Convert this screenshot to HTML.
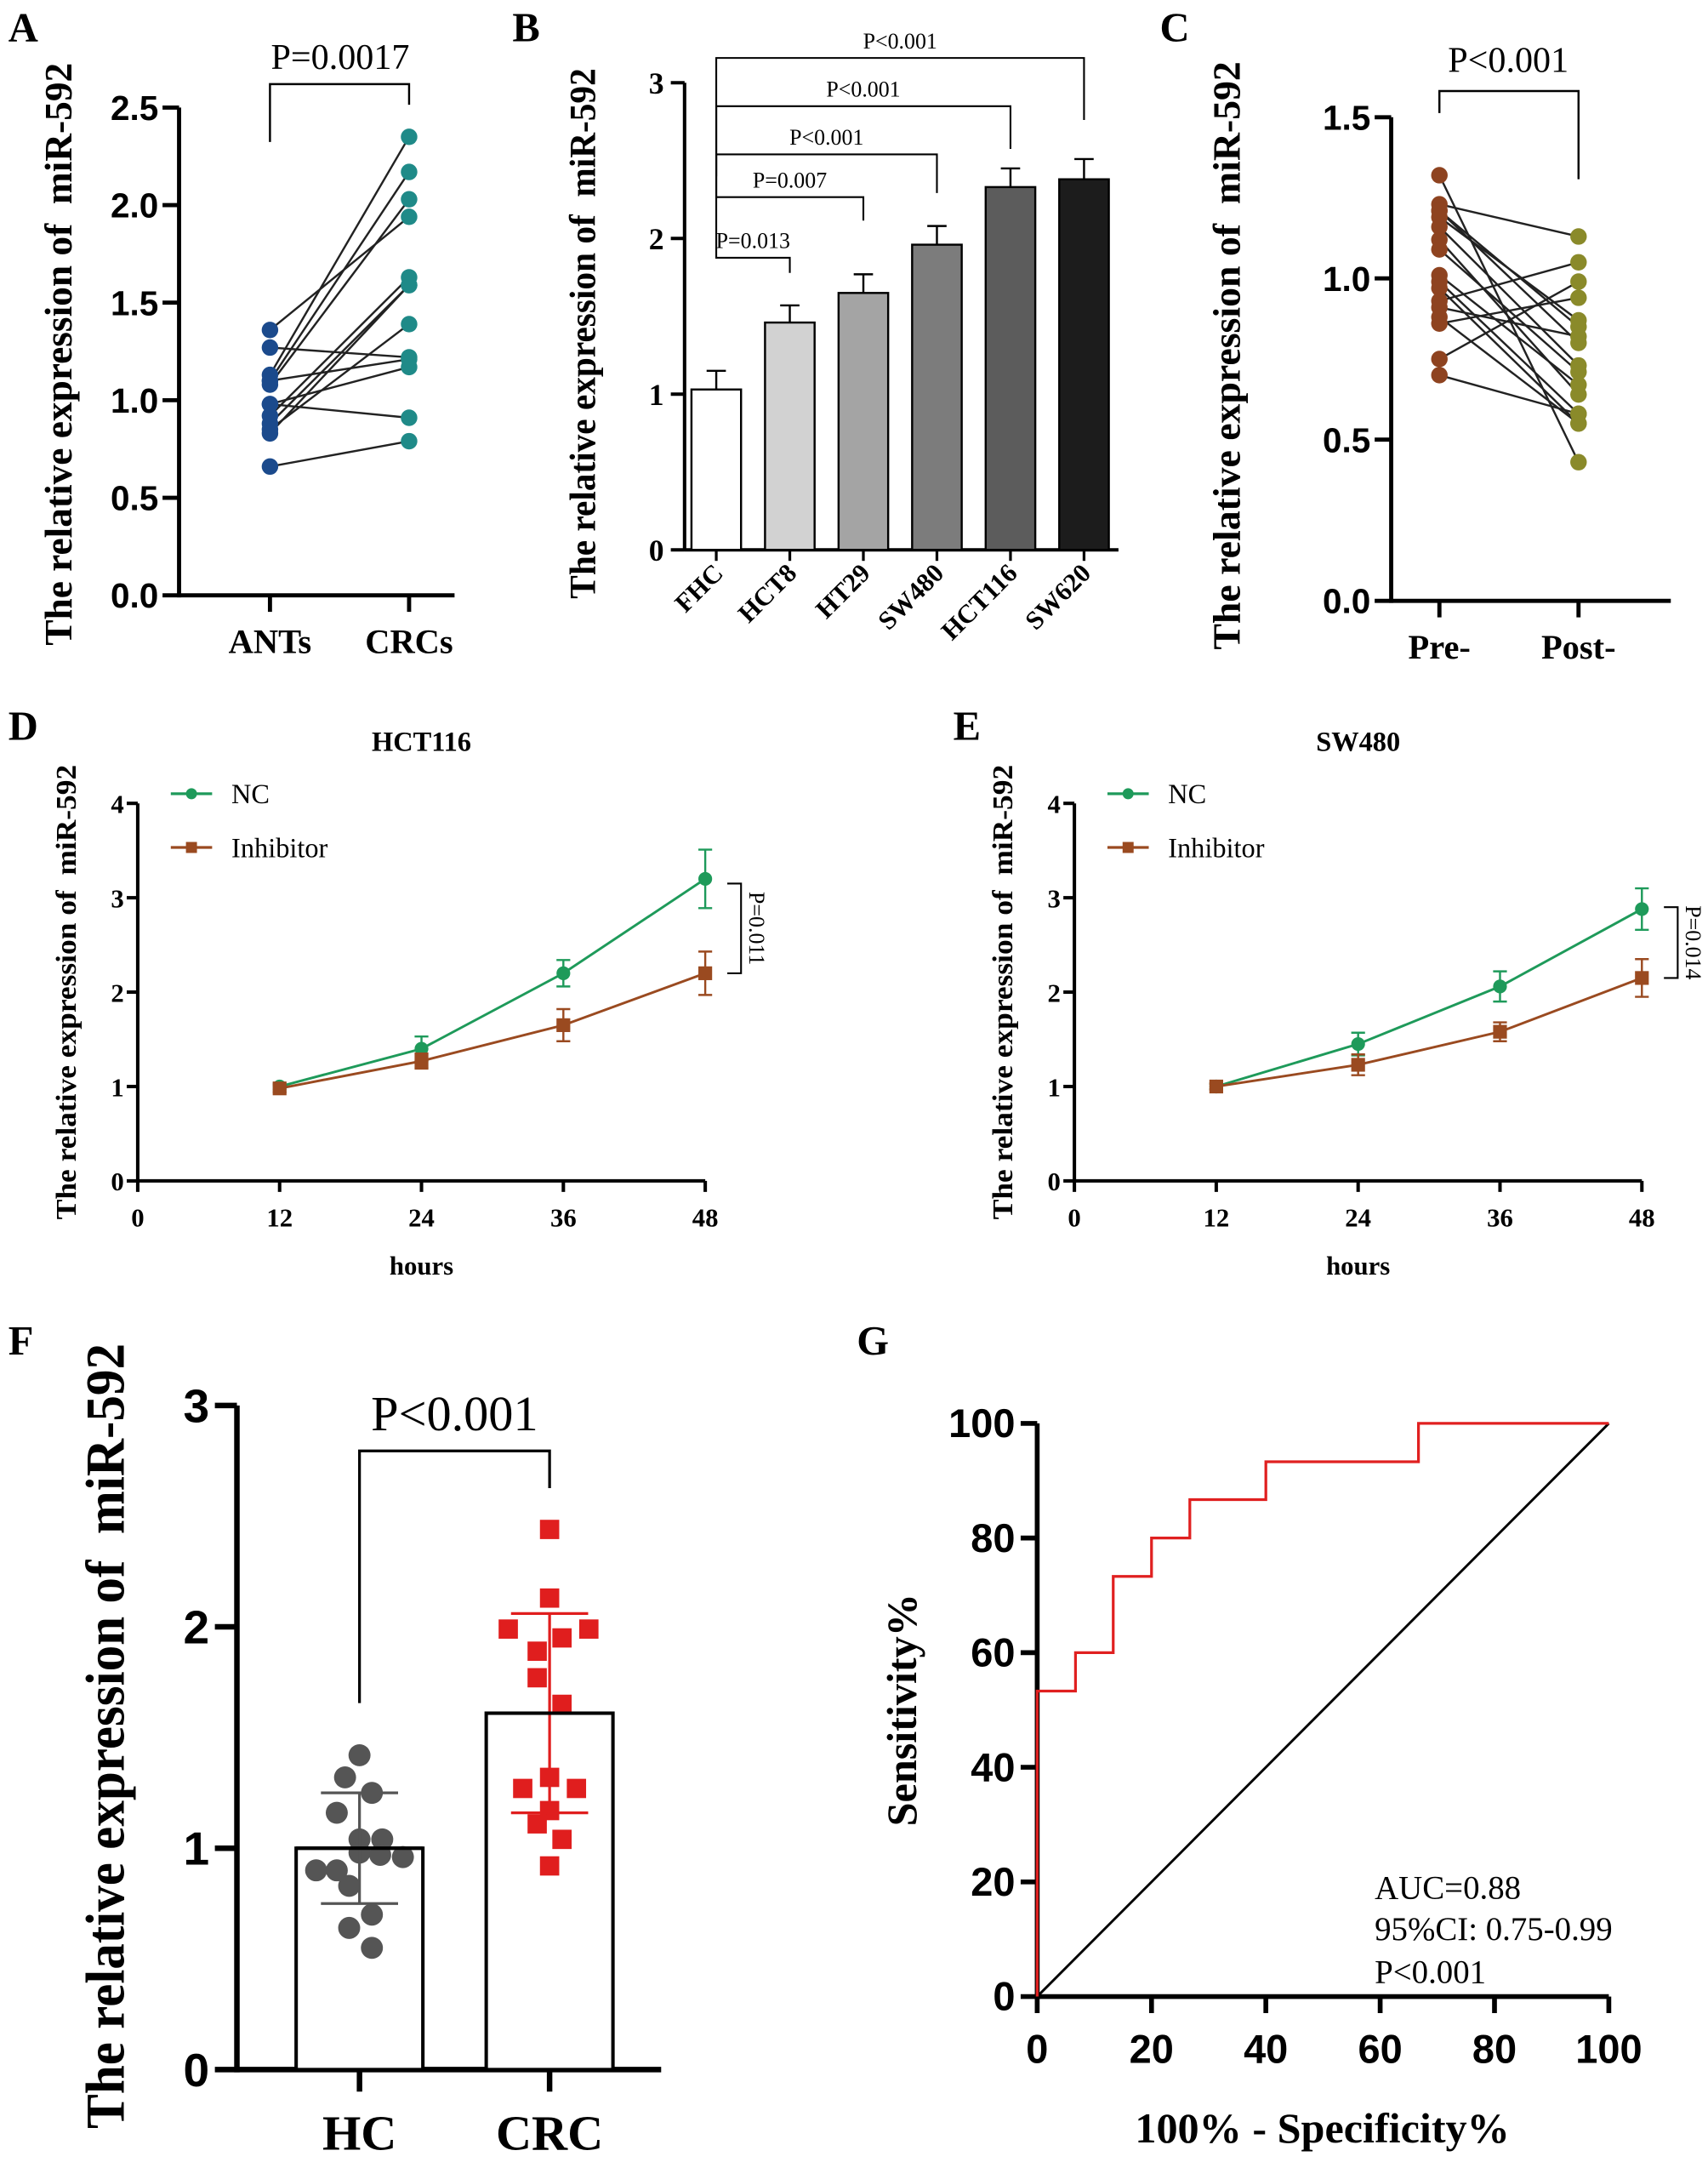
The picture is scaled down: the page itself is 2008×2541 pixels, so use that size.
<!DOCTYPE html>
<html><head><meta charset="utf-8">
<style>
html,body{margin:0;padding:0;background:#fff;}
svg{display:block;}
.serif{font-family:"Liberation Serif",serif;}
.sans{font-family:"Liberation Sans",sans-serif;font-weight:bold;}
</style></head>
<body>
<svg id="fig" xmlns="http://www.w3.org/2000/svg" width="2008" height="2541" viewBox="0 0 1240 1569">
<rect width="1240" height="1569" fill="#fff"/>
</svg>
<script>
// ---- Panel A data ----
const aCategories = ["ANTs","CRCs"];
const aAnts = [1.36,1.27,1.13,1.10,1.10,1.08,0.98,0.98,0.92,0.88,0.85,0.83,0.66];
const aCrcs = [1.94,1.22,2.35,2.17,1.21,2.03,0.91,1.17,1.63,1.59,1.39,1.59,0.79];
const aTicks = [0,0.5,1.0,1.5,2.0,2.5];
// ---- Panel B data ----
const bCategories = ["FHC","HCT8","HT29","SW480","HCT116","SW620"];
const bValues = [1.03,1.46,1.65,1.96,2.33,2.38];
const bErrors = [0.12,0.11,0.12,0.12,0.12,0.13];
const bTicks = [0,1,2,3];
const bPLabels = ["P=0.013","P=0.007","P<0.001","P<0.001","P<0.001"];
// ---- Panel C data ----
const cCategories = ["Pre-","Post-"];
const cPre  = [1.32,1.23,1.21,1.21,1.19,1.16,1.12,1.09,1.01,0.99,0.97,0.93,0.91,0.88,0.86,0.75,0.70];
const cPost = [0.43,1.13,0.85,0.80,0.87,0.73,0.64,0.71,0.67,0.58,0.55,1.05,0.82,0.55,0.94,0.99,0.58];
const cTicks = [0,0.5,1.0,1.5];
// ---- Panel D/E data ----
const hours = [12,24,36,48];
const hourTicks = [0,12,24,36,48];
const lineTicks = [0,1,2,3,4];
const dNC = [1.0,1.4,2.2,3.2];
const dNCErr = [0.03,0.13,0.14,0.31];
const dInh = [0.98,1.27,1.65,2.2];
const dInhErr = [0.04,0.08,0.17,0.23];
const eNC = [1.0,1.45,2.06,2.88];
const eNCErr = [0.03,0.12,0.16,0.22];
const eInh = [1.0,1.23,1.58,2.15];
const eInhErr = [0.03,0.11,0.1,0.2];
// ---- Panel F data ----
const fCategories = ["HC","CRC"];
const fMeans = [1.0,1.61];
const fSD = [0.25,0.45];
const fHC  = [1.42,1.32,1.25,1.16,1.04,1.04,0.98,0.97,0.96,0.90,0.90,0.83,0.70,0.64,0.55];
const fHCJitter = [0,-0.35,0.3,-0.55,0,0.55,0,0.5,1.05,-1.05,-0.55,-0.25,0.3,-0.25,0.3];
const fCRC = [2.44,2.13,1.99,1.99,1.95,1.89,1.77,1.65,1.32,1.27,1.27,1.17,1.11,1.04,0.92];
const fCRCJitter = [0,0,-1.0,0.95,0.3,-0.3,-0.3,0.3,0,-0.65,0.65,0,-0.3,0.3,0];
const fTicks = [0,1,2,3];
// ---- Panel G data ----
const rocFPR = [0,0,6.7,6.7,13.3,13.3,20,20,26.7,26.7,40,40,66.7,66.7,100];
const rocTPR = [0,53.3,53.3,60,60,73.3,73.3,80,80,86.7,86.7,93.3,93.3,100,100];
const gTicks = [0,20,40,60,80,100];

const NS="http://www.w3.org/2000/svg";
const svg=document.getElementById('fig');
const YTITLE='The relative expression of\u00a0 miR-592';
function el(tag,attrs,parent,text){
  const e=document.createElementNS(NS,tag);
  for(const k in attrs) e.setAttribute(k,attrs[k]);
  if(text!==undefined) e.textContent=text;
  (parent||svg).appendChild(e);
  return e;
}
function grp(name){
  const g=el('g',{});
  
  
  return g;
}
function line(g,x1,y1,x2,y2,stroke,w){return el('line',{x1,y1,x2,y2,stroke:stroke||'#000','stroke-width':w||2},g);}
function txt(g,x,y,s,size,cls,anchor,extra){
  return el('text',Object.assign({x,y,'font-size':size,'class':cls,'text-anchor':anchor||'middle'},extra||{}),g,s);
}
function vtitle(g,x,y,s,size,len){
  const extra={transform:`translate(${x},${y}) rotate(-90)`,'font-weight':'bold'};
  if(len){extra.textLength=len;extra.lengthAdjust='spacingAndGlyphs';}
  return txt(g,0,0,s,size,'serif','middle',extra);
}
function letter(x,y,s){
  const g=grp('panel-label-'+s.toLowerCase());
  txt(g,x,y,s,30,'serif','start',{'font-weight':'bold'});
}
letter(6,30,'A');letter(372,30,'B');letter(842,30,'C');letter(6,537,'D');letter(692,537,'E');letter(6,983,'F');letter(622,983,'G');

// ===== Panel A =====
(function(){
  const g=grp('panel-a');
  const x0=130,y0=432,yTop=78,max=2.5;
  const ys=v=>y0-(v/max)*(y0-yTop);
  const xs=[196,297];
  line(g,x0,yTop,x0,y0+1.5,'#000',3);
  line(g,x0,y0,330,y0,'#000',3);
  aTicks.forEach(t=>{line(g,x0-12,ys(t),x0,ys(t),'#000',3);txt(g,x0-15,ys(t)+9,t.toFixed(1),25,'sans','end');});
  aCategories.forEach((c,i)=>{line(g,xs[i],y0,xs[i],y0+12,'#000',3);txt(g,xs[i],y0+42,c,25,'serif','middle',{'font-weight':'bold'});});
  vtitle(g,52,257,YTITLE,28,423);
  el('path',{d:`M${xs[0]} 103 V61 H${xs[1]} V76`,fill:'none',stroke:'#000','stroke-width':1.5},g);
  txt(g,247,50,'P=0.0017',26,'serif','middle');
  aAnts.forEach((v,i)=>{
    const l=line(g,xs[0],ys(v),xs[1],ys(aCrcs[i]),'#222',1.5);
    
  });
  aAnts.forEach(v=>{const c=el('circle',{cx:xs[0],cy:ys(v),r:6,fill:'#1b4a8c'},g);});
  aCrcs.forEach(v=>{const c=el('circle',{cx:xs[1],cy:ys(v),r:6,fill:'#1f8a88'},g);});
})();

// ===== Panel B =====
(function(){
  const g=grp('panel-b');
  const x0=497,y0=399,yTop=60,max=3;
  const ys=v=>y0-(v/max)*(y0-yTop);
  const xs=i=>520+i*53.4;
  const colors=['#ffffff','#d2d2d2','#a4a4a4','#7c7c7c','#5c5c5c','#1c1c1c'];
  line(g,x0,yTop,x0,y0+1,'#000',2.5);
  line(g,x0,y0,812,y0,'#000',2.5);
  bTicks.forEach(t=>{line(g,x0-10,ys(t),x0,ys(t),'#000',2.5);txt(g,x0-15,ys(t)+8,String(t),22,'serif','end',{'font-weight':'bold'});});
  bValues.forEach((v,i)=>{
    const cx=xs(i);
    line(g,cx,ys(v+bErrors[i]),cx,ys(v),'#000',1.5);
    line(g,cx-7,ys(v+bErrors[i]),cx+7,ys(v+bErrors[i]),'#000',1.5);
    const r=el('rect',{x:cx-18,y:ys(v),width:36,height:y0-ys(v),fill:colors[i],stroke:'#000','stroke-width':1.5},g);
    
    
    line(g,cx,y0,cx,y0+8,'#000',2);
    txt(g,0,0,bCategories[i],19,'serif','end',{'font-weight':'bold',transform:`translate(${cx+6},${y0+18}) rotate(-45)`});
  });
  vtitle(g,432,242,YTITLE,27,385);
  const levels=[187,143,112,77,42];
  const ends=[198,160,140,108,87];
  bPLabels.forEach((p,i)=>{
    const xe=xs(i+1);
    el('path',{d:`M${xs(0)} 128 V${levels[i]} H${xe} V${ends[i]}`,fill:'none',stroke:'#000','stroke-width':1.3},g);
    txt(g,(xs(0)+xe)/2,levels[i]-7,p,16,'serif','middle');
  });
})();

// ===== Panel C =====
(function(){
  const g=grp('panel-c');
  const x0=1010,y0=436,yTop=85,max=1.5;
  const ys=v=>y0-(v/max)*(y0-yTop);
  const xs=[1045,1146];
  line(g,x0,yTop,x0,y0+1.5,'#000',3);
  line(g,x0,y0,1213,y0,'#000',3);
  cTicks.forEach(t=>{line(g,x0-12,ys(t),x0,ys(t),'#000',3);txt(g,x0-15,ys(t)+9,t.toFixed(1),25,'sans','end');});
  cCategories.forEach((c,i)=>{line(g,xs[i],y0,xs[i],y0+12,'#000',3);txt(g,xs[i],y0+42,c,25,'serif','middle',{'font-weight':'bold'});});
  vtitle(g,900,258,YTITLE,28,427);
  el('path',{d:`M${xs[0]} 82 V66 H${xs[1]} V130`,fill:'none',stroke:'#000','stroke-width':1.5},g);
  txt(g,1095,52,'P<0.001',26,'serif','middle');
  cPre.forEach((v,i)=>{const l=line(g,xs[0],ys(v),xs[1],ys(cPost[i]),'#222',1.5);});
  cPre.forEach(v=>{const c=el('circle',{cx:xs[0],cy:ys(v),r:6,fill:'#8e4320'},g);});
  cPost.forEach(v=>{const c=el('circle',{cx:xs[1],cy:ys(v),r:6,fill:'#8a8a2a'},g);});
})();

// ===== Panels D, E =====
function linePanel(name,ox,title,nc,ncErr,inh,inhErr,pText,pTop,pBot){
  const g=grp(name);
  const x0=ox,y0=857,yTop=583,xMax=ox+412;
  const ys=v=>y0-(v/4)*(y0-yTop);
  const xs=h=>x0+(h/48)*(xMax-x0);
  line(g,x0,yTop,x0,y0+1,'#000',2.5);
  line(g,x0,y0,xMax,y0,'#000',2.5);
  lineTicks.forEach(t=>{line(g,x0-8,ys(t),x0,ys(t),'#000',2.5);txt(g,x0-10,ys(t)+7,String(t),19,'serif','end',{'font-weight':'bold'});});
  hourTicks.forEach(t=>{line(g,xs(t),y0,xs(t),y0+8,'#000',2.5);txt(g,xs(t),y0+33,String(t),19,'serif','middle',{'font-weight':'bold'});});
  txt(g,(x0+xMax)/2,y0+68,'hours',19,'serif','middle',{'font-weight':'bold'});
  txt(g,(x0+xMax)/2,545,title,20,'serif','middle',{'font-weight':'bold'});
  vtitle(g,x0-45,720,YTITLE,21,330);
  function series(vals,errs,color,sq,sname){
    const sg=el('g',{},g);
    
    
    el('polyline',{points:vals.map((v,i)=>xs(hours[i])+','+ys(v)).join(' '),fill:'none',stroke:color,'stroke-width':1.8},sg);
    vals.forEach((v,i)=>{
      const x=xs(hours[i]);
      line(sg,x,ys(v-errs[i]),x,ys(v+errs[i]),color,1.5);
      line(sg,x-5,ys(v-errs[i]),x+5,ys(v-errs[i]),color,1.5);
      line(sg,x-5,ys(v+errs[i]),x+5,ys(v+errs[i]),color,1.5);
      if(sq) el('rect',{x:x-5,y:ys(v)-5,width:10,height:10,fill:color},sg);
      else el('circle',{cx:x,cy:ys(v),r:5,fill:color},sg);
    });
  }
  series(nc,ncErr,'#1e9a5a',false,'nc-series');
  series(inh,inhErr,'#9a4a20',true,'inhibitor-series');
  const lg=el('g',{},g);
  
  
  line(lg,x0+24,576,x0+54,576,'#1e9a5a',2);el('circle',{cx:x0+39,cy:576,r:4,fill:'#1e9a5a'},lg);
  txt(lg,x0+68,583,'NC',20,'serif','start');
  line(lg,x0+24,615,x0+54,615,'#9a4a20',2);el('rect',{x:x0+35,y:611,width:8,height:8,fill:'#9a4a20'},lg);
  txt(lg,x0+68,622,'Inhibitor',20,'serif','start');
  const bx=xs(48)+16;
  el('path',{d:`M${bx} ${ys(pTop)} H${bx+10} V${ys(pBot)} H${bx}`,fill:'none',stroke:'#000','stroke-width':1.3},g);
  txt(g,0,0,pText,16,'serif','middle',{transform:`translate(${bx+16},${(ys(pTop)+ys(pBot))/2}) rotate(90)`});
}
linePanel('panel-d',100,'HCT116',dNC,dNCErr,dInh,dInhErr,'P=0.011',3.15,2.2);
linePanel('panel-e',780,'SW480',eNC,eNCErr,eInh,eInhErr,'P=0.014',2.9,2.15);

// ===== Panel F =====
(function(){
  const g=grp('panel-f');
  const x0=172,y0=1502,yTop=1020,max=3;
  const ys=v=>y0-(v/max)*(y0-yTop);
  const xs=[261,399];
  line(g,x0,yTop,x0,y0+2,'#000',4);
  line(g,x0,y0,480,y0,'#000',4);
  fTicks.forEach(t=>{line(g,x0-16,ys(t),x0,ys(t),'#000',4);txt(g,x0-20,ys(t)+12,String(t),34,'sans','end');});
  fCategories.forEach((c,i)=>{line(g,xs[i],y0,xs[i],y0+16,'#000',4);txt(g,xs[i],y0+58,c,36,'serif','middle',{'font-weight':'bold'});});
  vtitle(g,90,1260,YTITLE,40,570);
  fMeans.forEach((m,i)=>{
    const r=el('rect',{x:xs[i]-46,y:ys(m),width:92,height:y0-ys(m),fill:'#fff',stroke:'#000','stroke-width':2.5},g);
    
    
  });
  el('path',{d:`M${xs[0]} 1236 V1053 H${xs[1]} V1080`,fill:'none',stroke:'#000','stroke-width':2},g);
  txt(g,330,1038,'P<0.001',36,'serif','middle');
  fHC.forEach((v,i)=>{const c=el('circle',{cx:xs[0]+fHCJitter[i]*30,cy:ys(v),r:8,fill:'#555'},g);});
  fCRC.forEach((v,i)=>{const c=el('rect',{x:xs[1]+fCRCJitter[i]*30-7,y:ys(v)-7,width:14,height:14,fill:'#e01e1e'},g);});
  const cols=['#555','#e01e1e'];
  fMeans.forEach((m,i)=>{
    const x=xs[i],c=cols[i];
    line(g,x,ys(m-fSD[i]),x,ys(m+fSD[i]),c,2);
    line(g,x-28,ys(m-fSD[i]),x+28,ys(m-fSD[i]),c,2);
    line(g,x-28,ys(m+fSD[i]),x+28,ys(m+fSD[i]),c,2);
    line(g,x-46,ys(m),x+46,ys(m),'#000',2.5);
  });
})();

// ===== Panel G =====
(function(){
  const g=grp('panel-g');
  const x0=753,y0=1449,yTop=1033,xMax=1168;
  const ys=v=>y0-(v/100)*(y0-yTop);
  const xs=v=>x0+(v/100)*(xMax-x0);
  line(g,x0,yTop,x0,y0+2,'#000',3.5);
  line(g,x0,y0,xMax,y0,'#000',3.5);
  gTicks.forEach(t=>{
    line(g,x0-12,ys(t),x0,ys(t),'#000',3.5);txt(g,x0-16,ys(t)+10,String(t),29,'sans','end');
    line(g,xs(t),y0,xs(t),y0+12,'#000',3.5);txt(g,xs(t),y0+48,String(t),29,'sans','middle');
  });
  vtitle(g,665,1241,'Sensitivity%',31);
  txt(g,960,1555,'100% - Specificity%',31,'serif','middle',{'font-weight':'bold'});
  const diag=line(g,xs(0),ys(0),xs(100),ys(100),'#000',1.8);
  
  const roc=el('polyline',{points:rocFPR.map((f,i)=>xs(f)+','+ys(rocTPR[i])).join(' '),fill:'none',stroke:'#e02020','stroke-width':2},g);
  
  
  txt(g,998,1378,'AUC=0.88',24,'serif','start');
  txt(g,998,1408,'95%CI: 0.75-0.99',24,'serif','start');
  txt(g,998,1439,'P<0.001',24,'serif','start');
})();
</script>
</body></html>
